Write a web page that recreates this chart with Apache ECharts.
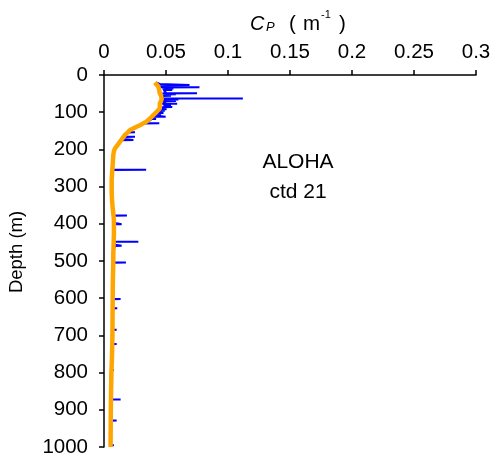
<!DOCTYPE html>
<html>
<head>
<meta charset="utf-8">
<script src="https://cdn.jsdelivr.net/npm/echarts@6/dist/echarts.min.js"></script>
<style>
html,body{margin:0;padding:0;background:#fff;}
#chart{width:495px;height:468px;}
</style>
</head>
<body>
<div id="chart"></div>
<script>
// Smoothed profile (orange)
var smoothDepth = [20, 25, 31, 40, 49, 56, 63, 70, 76, 84, 90, 95, 99, 104, 108, 114, 121, 126, 130, 135, 139, 144, 148, 155, 161, 170, 179, 188, 197, 205, 215, 230, 246, 265, 282, 300, 318, 336, 354, 372, 390, 410, 425, 450, 479, 500, 530, 560, 600, 650, 700, 750, 800, 850, 900, 950, 1000];
var smoothCp = [0.041, 0.042, 0.0438, 0.0445, 0.045, 0.046, 0.0465, 0.046, 0.045, 0.045, 0.045, 0.044, 0.0425, 0.041, 0.0398, 0.038, 0.0357, 0.034, 0.0317, 0.029, 0.0263, 0.0235, 0.021, 0.019, 0.0169, 0.015, 0.0129, 0.011, 0.0089, 0.008, 0.0075, 0.0072, 0.0069, 0.0065, 0.0062, 0.0062, 0.0062, 0.0065, 0.0069, 0.0075, 0.008, 0.008, 0.008, 0.0078, 0.0075, 0.0075, 0.0073, 0.0071, 0.007, 0.0069, 0.0068, 0.0065, 0.006, 0.0057, 0.0055, 0.0054, 0.0053];

// Raw profile (blue), spikes included
var rawDepth = [20, 24, 27, 27, 27.5, 31, 33, 33, 33.5, 36, 36, 36.5, 40, 40, 40.5, 44, 47, 49, 49, 49.5, 52, 52, 52.5, 56, 56, 56.5, 59, 63, 63, 63.5, 66, 66, 66.5, 70, 70, 70.5, 74, 77, 77, 77.5, 81, 81, 81.5, 86, 86, 86.5, 88, 92, 92, 92.5, 96, 96, 96.5, 100, 102, 102, 102.5, 106, 108, 108, 108.5, 112, 112, 112.5, 117, 118, 118, 118.5, 121, 123, 127, 130, 130, 130.5, 135, 138, 142, 146, 150, 154, 154, 154.5, 160, 166, 166, 166.5, 172, 175, 175, 175.5, 182, 190, 197, 203, 210, 220, 232, 245, 255, 255, 255.5, 265, 275, 290, 305, 318, 330, 345, 360, 370, 378, 378, 378.5, 390, 398, 401, 401, 401.5, 412, 425, 438, 448, 448, 448.5, 456, 459, 459, 459.5, 470, 485, 495, 504, 504, 504.5, 520, 540, 560, 580, 602, 602, 602.5, 615, 627, 627, 627.5, 645, 665, 685, 685, 685.5, 705, 723, 723, 723.5, 740, 760, 780, 793, 793, 793.5, 810, 830, 850, 872, 872, 872.5, 890, 910, 929, 929, 929.5, 950, 970, 985, 995, 995, 995.5, 1000];
var rawCp = [0.042, 0.045, 0.046, 0.069, 0.046, 0.045, 0.046, 0.077, 0.047, 0.047, 0.056, 0.047, 0.047, 0.055, 0.048, 0.047, 0.050, 0.048, 0.075, 0.047, 0.048, 0.058, 0.048, 0.047, 0.054, 0.047, 0.047, 0.048, 0.112, 0.049, 0.048, 0.060, 0.048, 0.047, 0.058, 0.047, 0.050, 0.047, 0.059, 0.047, 0.047, 0.054, 0.048, 0.047, 0.055, 0.046, 0.046, 0.046, 0.0505, 0.045, 0.045, 0.049, 0.044, 0.043, 0.043, 0.048, 0.042, 0.041, 0.041, 0.046, 0.040, 0.039, 0.0497, 0.039, 0.037, 0.037, 0.042, 0.036, 0.038, 0.036, 0.034, 0.032, 0.0446, 0.032, 0.029, 0.027, 0.024, 0.022, 0.021, 0.019, 0.025, 0.019, 0.018, 0.016, 0.025, 0.016, 0.015, 0.014, 0.0237, 0.014, 0.012, 0.011, 0.009, 0.0082, 0.0075, 0.0072, 0.0068, 0.0070, 0.0066, 0.034, 0.0066, 0.0064, 0.006, 0.0058, 0.006, 0.0058, 0.0062, 0.0065, 0.0068, 0.0072, 0.0075, 0.0185, 0.0078, 0.0085, 0.009, 0.009, 0.0142, 0.009, 0.008, 0.0078, 0.008, 0.0082, 0.0277, 0.0082, 0.009, 0.009, 0.0142, 0.009, 0.0078, 0.0075, 0.0078, 0.0075, 0.0177, 0.0075, 0.0072, 0.0075, 0.007, 0.0072, 0.0072, 0.0134, 0.0072, 0.007, 0.007, 0.0107, 0.007, 0.0068, 0.007, 0.0068, 0.0102, 0.0068, 0.0066, 0.0066, 0.0102, 0.0066, 0.0062, 0.0058, 0.006, 0.0058, 0.008, 0.0056, 0.0055, 0.0052, 0.0052, 0.0054, 0.0134, 0.0054, 0.0052, 0.0054, 0.0053, 0.0102, 0.0053, 0.0053, 0.0052, 0.0053, 0.0053, 0.008, 0.0053, 0.0053];

var xTicks = [0, 0.05, 0.1, 0.15, 0.2, 0.25, 0.3];
var depthTicks = [0, 100, 200, 300, 400, 500, 600, 700, 800, 900, 1000];
var annotation = ["ALOHA", "ctd 21"];
var yAxisTitle = "Depth (m)";

function pairs(xs, ys) { var out = []; for (var i = 0; i < xs.length; i++) out.push([xs[i], ys[i]]); return out; }

var FONT = '"Liberation Sans", Arial, Helvetica, sans-serif';
var chart = echarts.init(document.getElementById('chart'), null, {renderer: 'canvas'});
chart.setOption({
  animation: false,
  backgroundColor: '#fff',
  grid: {left: 104, right: 19, top: 75, bottom: 21, containLabel: false},
  xAxis: {
    type: 'value', position: 'top',
    min: xTicks[0], max: xTicks[xTicks.length - 1], interval: xTicks[1] - xTicks[0],
    axisLine: {show: true, lineStyle: {color: '#000', width: 1.5}},
    axisTick: {show: true, inside: false, length: 5, lineStyle: {color: '#000', width: 1.5}},
    axisLabel: {fontSize: 20.5, color: '#000', fontFamily: FONT, margin: 12,
      formatter: function (v) { return String(+v.toFixed(2)); }},
    splitLine: {show: false}
  },
  yAxis: {
    type: 'value', inverse: true,
    min: depthTicks[0], max: depthTicks[depthTicks.length - 1], interval: depthTicks[1] - depthTicks[0],
    axisLine: {show: true, lineStyle: {color: '#000', width: 1.5}},
    axisTick: {show: true, inside: false, length: 5, lineStyle: {color: '#000', width: 1.5}},
    axisLabel: {fontSize: 20.5, color: '#000', fontFamily: FONT, margin: 16,
      formatter: function (v) { return String(v); }},
    splitLine: {show: false}
  },
  series: [
    {type: 'line', data: pairs(rawCp, rawDepth), showSymbol: false, symbol: 'none',
     lineStyle: {color: '#0000ff', width: 2}, z: 2},
    {type: 'line', data: pairs(smoothCp, smoothDepth), showSymbol: false, symbol: 'none',
     lineStyle: {color: '#ffa500', width: 4.5}, z: 3}
  ],
  graphic: [
    {type: 'text', left: 250, top: 14.5, style: {text: 'C', font: 'italic 20px ' + FONT, fill: '#000'}},
    {type: 'text', left: 266, top: 21, style: {text: 'P', font: 'italic 13px ' + FONT, fill: '#000'}},
    {type: 'text', left: 289, top: 14, style: {text: '(', font: '20.5px ' + FONT, fill: '#000'}},
    {type: 'text', left: 303, top: 14, style: {text: 'm', font: '20.5px ' + FONT, fill: '#000'}},
    {type: 'text', left: 321, top: 9, style: {text: '-1', font: '11px ' + FONT, fill: '#000'}},
    {type: 'text', left: 339, top: 14, style: {text: ')', font: '20.5px ' + FONT, fill: '#000'}},
    {type: 'text', x: 17, y: 252, rotation: Math.PI / 2,
     style: {text: yAxisTitle, font: '18.5px ' + FONT, fill: '#000', textAlign: 'center', textVerticalAlign: 'middle'}},
    {type: 'text', x: 298, y: 162, style: {text: annotation[0], font: '21px ' + FONT, fill: '#000', textAlign: 'center', textVerticalAlign: 'middle'}},
    {type: 'text', x: 298, y: 192, style: {text: annotation[1], font: '21px ' + FONT, fill: '#000', textAlign: 'center', textVerticalAlign: 'middle'}}
  ]
});
</script>
</body>
</html>
